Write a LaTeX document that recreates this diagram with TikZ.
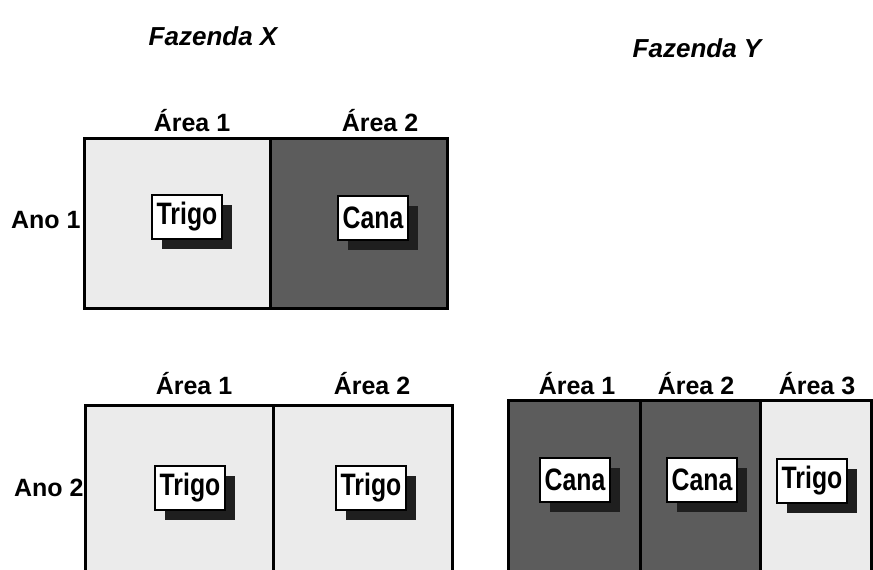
\documentclass[tikz,border=0pt]{standalone}
\usepackage{fontspec}
\setmainfont{Liberation Sans}
\newfontfamily\estreita[FakeStretch=0.8]{Liberation Sans}
\usepackage{tikz}
\usetikzlibrary{shadows}
\definecolor{campoClaro}{gray}{0.92}
\definecolor{campoEscuro}{gray}{0.36}
\definecolor{sombra}{gray}{0.12}

\tikzset{
  rotulo/.style={font=\fontsize{25}{28}\selectfont\bfseries},
  titulo/.style={font=\fontsize{26}{30}\selectfont\bfseries\itshape},
  parcela/.style={line width=3pt},
  cultura/.style={draw,fill=white,line width=2.5pt,minimum width=70pt,minimum height=44pt,inner sep=2pt,
    font=\estreita\fontsize{31}{33}\selectfont\bfseries,
    drop shadow={shadow xshift=10pt,shadow yshift=-10pt,fill=sombra,opacity=1}}
}

\begin{document}
\begin{tikzpicture}[x=1pt,y=-1pt]
\useasboundingbox (0,0) rectangle (873,570);
% titulos
\node[titulo] (fazX) at (213,36) {Fazenda X};
\node[titulo] (fazY) at (697,48) {Fazenda Y};
% fazenda X, ano 1
\fill[campoClaro] (84,138) rectangle (270,308);
\fill[campoEscuro] (270,138) rectangle (447,308);
\draw[parcela] (84,138) rectangle (447,308);
\draw[parcela] (270,138)--(270,308);
\node[rotulo] (x1a1) at (192,121) {Área 1};
\node[rotulo] (x1a2) at (380,121) {Área 2};
\node[rotulo,anchor=east] (ano1) at (84,220) {Ano 1};
\node[cultura] (x1trigo) at (187,217) {Trigo};
\node[cultura] (x1cana) at (373,218) {Cana};
% fazenda X, ano 2
\fill[campoClaro] (85,405) rectangle (452,580);
\draw[parcela] (85,405) rectangle (452,580);
\draw[parcela] (273,405)--(273,580);
\node[rotulo] (x2a1) at (194,384) {Área 1};
\node[rotulo] (x2a2) at (372,384) {Área 2};
\node[rotulo,anchor=east] (ano2) at (87,488) {Ano 2};
\node[cultura] (x2trigoA) at (190,488) {Trigo};
\node[cultura] (x2trigoB) at (371,488) {Trigo};
% fazenda Y, ano 2
\fill[campoEscuro] (508,400) rectangle (760,580);
\fill[campoClaro] (760,400) rectangle (871,580);
\draw[parcela] (508,400) rectangle (871,580);
\draw[parcela] (640,400)--(640,580);
\draw[parcela] (760,400)--(760,580);
\node[rotulo] (ya1) at (577,384) {Área 1};
\node[rotulo] (ya2) at (696,384) {Área 2};
\node[rotulo] (ya3) at (817,384) {Área 3};
\node[cultura] (ycanaA) at (575,480) {Cana};
\node[cultura] (ycanaB) at (702,480) {Cana};
\node[cultura] (ytrigo) at (812,481) {Trigo};
\end{tikzpicture}
\end{document}
